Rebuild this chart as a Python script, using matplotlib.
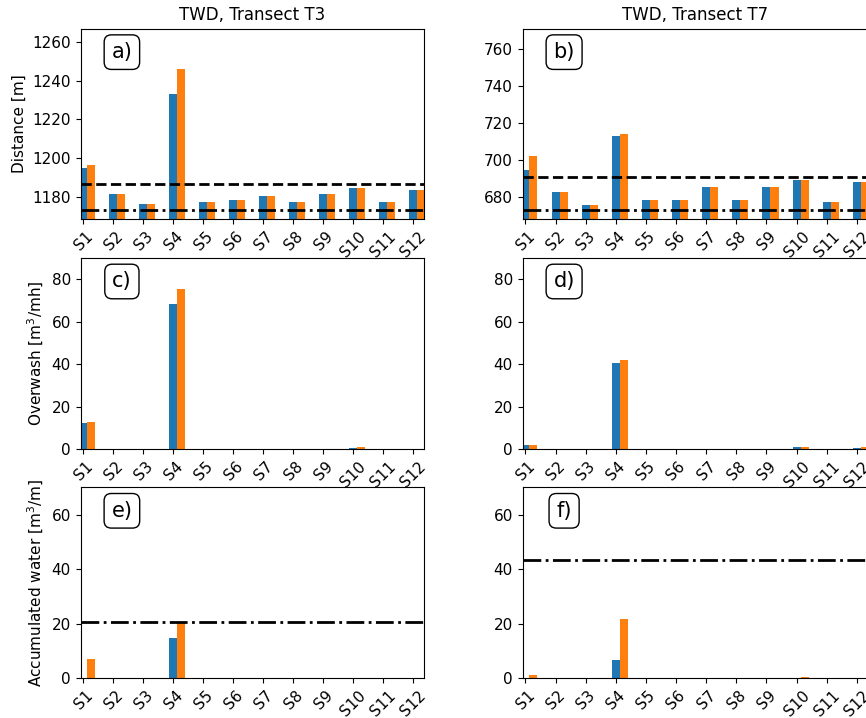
import numpy as np
import matplotlib.pyplot as plt

stations = ["S1", "S2", "S3", "S4", "S5", "S6", "S7", "S8", "S9", "S10", "S11", "S12"]

# shoreline distance [m]
dist_t3_a = [1194.8, 1181.4, 1176.2, 1233.1, 1177.2, 1178.3, 1180.4, 1177.2, 1181.4, 1184.5, 1177.2, 1183.5]
dist_t3_b = [1196.4, 1181.4, 1176.2, 1246.0, 1177.2, 1178.3, 1180.4, 1177.2, 1181.4, 1184.5, 1177.2, 1183.5]
dist_t7_a = [694.5, 682.7, 675.7, 713.0, 678.5, 678.5, 685.6, 678.5, 685.6, 689.2, 677.4, 688.2]
dist_t7_b = [702.0, 682.7, 675.7, 714.1, 678.5, 678.5, 685.6, 678.5, 685.6, 689.2, 677.4, 688.2]
crest_t3, toe_t3 = 1186.7, 1173.3
crest_t7, toe_t7 = 691.0, 673.1

# overwash [m3/mh]
ow_t3_a = [12.2, 0, 0, 68.2, 0, 0, 0, 0, 0, 0.3, 0, 0]
ow_t3_b = [12.7, 0, 0, 75.3, 0, 0, 0, 0, 0, 0.9, 0, 0]
ow_t7_a = [1.9, 0, 0, 40.5, 0, 0, 0, 0, 0, 0.9, 0, 0.5]
ow_t7_b = [1.9, 0, 0, 41.9, 0, 0, 0, 0, 0, 0.9, 0, 0.9]

# accumulated water [m3/m]
acc_t3_a = [0, 0, 0, 14.8, 0, 0, 0, 0, 0, 0, 0, 0]
acc_t3_b = [7.1, 0, 0, 20.5, 0, 0, 0, 0, 0, 0, 0, 0]
acc_t7_a = [0, 0, 0, 6.7, 0, 0, 0, 0, 0, 0, 0, 0]
acc_t7_b = [1.2, 0, 0, 21.7, 0, 0, 0, 0, 0, 0.5, 0, 0]
cap_t3, cap_t7 = 20.5, 43.2

x = np.arange(len(stations))
w = 0.267

plt.rcParams["font.size"] = 11

fig = plt.figure(figsize=(8.66, 7.18), dpi=100)
W, H = 866.0, 718.0

def make_ax(left, right, top, bottom):
    return fig.add_axes([left / W, (H - bottom) / H, (right - left) / W, (bottom - top) / H])

rows = [(28.7, 219.3), (258.0, 449.0), (487.3, 678.3)]
cols = [(80.7, 424.0), (522.7, 867.7)]
axs = [[make_ax(c[0], c[1], r[0], r[1]) for c in cols] for r in rows]

panels = [
    [(dist_t3_a, dist_t3_b, (1168.3, 1267.0), [(crest_t3, "--"), (toe_t3, "-.")], "a)"),
     (dist_t7_a, dist_t7_b, (668.0, 771.0), [(crest_t7, "--"), (toe_t7, "-.")], "b)")],
    [(ow_t3_a, ow_t3_b, (0, 90), [], "c)"),
     (ow_t7_a, ow_t7_b, (0, 90), [], "d)")],
    [(acc_t3_a, acc_t3_b, (0, 70), [(cap_t3, "-.")], "e)"),
     (acc_t7_a, acc_t7_b, (0, 70), [(cap_t7, "-.")], "f)")],
]

for i in range(3):
    for j in range(2):
        ax = axs[i][j]
        a, b, ylim, lines, lab = panels[i][j]
        ax.bar(x, a, w, color="tab:blue")
        ax.bar(x + w, b, w, color="tab:orange")
        for val, ls in lines:
            ax.axhline(val, color="black", linestyle=ls, linewidth=2)
        ax.set_xlim(-0.09, 11.36)
        ax.set_ylim(*ylim)
        ax.set_xticks(x)
        ax.set_xticklabels(stations, rotation=45)
        ax.text(0.12, 0.877, lab, transform=ax.transAxes, fontsize=15,
                ha="center", va="center",
                bbox=dict(boxstyle="round,pad=0.35", facecolor="white", edgecolor="black"))

axs[0][0].set_yticks([1180, 1200, 1220, 1240, 1260])
axs[0][1].set_yticks([680, 700, 720, 740, 760])
for j in range(2):
    axs[1][j].set_yticks([0, 20, 40, 60, 80])
    axs[2][j].set_yticks([0, 20, 40, 60])

axs[0][0].set_title("TWD, Transect T3", fontsize=12)
axs[0][1].set_title("TWD, Transect T7", fontsize=12)
axs[0][0].set_ylabel("Distance [m]")
axs[1][0].set_ylabel("Overwash [m$^3$/mh]")
axs[2][0].set_ylabel("Accumulated water [m$^3$/m]")

fig.savefig("out.png", dpi=100)
